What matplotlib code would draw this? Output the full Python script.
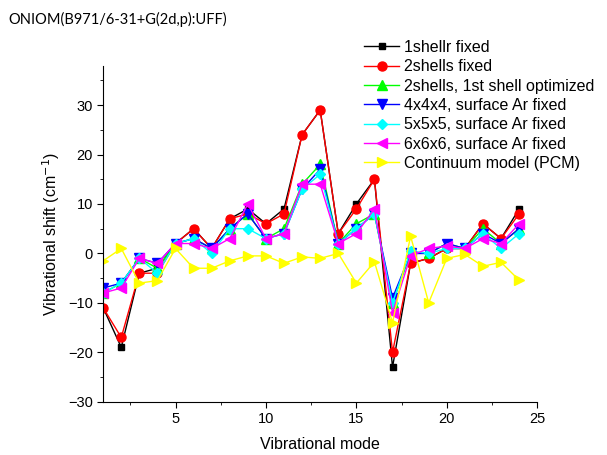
import matplotlib
matplotlib.use('Agg')
import matplotlib.pyplot as plt
from matplotlib.ticker import MultipleLocator

plt.rcParams['font.family'] = ['Liberation Sans', 'DejaVu Sans']

# Data
modes = list(range(1, 25))
one_shell = [-11, -19, -4, -3, 2, 5, 1, 7, 9, 6, 9, 24, 29, 4, 10, 15, -23, -2, -1, 1, 1, 6, 3, 9]
two_shells = [-11, -17, -4, -4, 2, 5, 1, 7, 8, 6, 8, 24, 29, 4, 9, 15, -20, -2, -1, 1, 1, 6, 3, 8]
two_shells_opt = [-8, -6, -1, -3, 2, 3, 1, 5, 8, 3, 5, 14, 18, 2, 6, 8, -10, 0, 0, 2, 1, 5, 2, 5]
cube4 = [-7, -6, -1, -2, 2, 3, 1, 5, 8, 3, 4, 13, 17, 2, 5, 8, -9, 0, 0, 2, 1, 4, 2, 5]
cube5 = [-8, -6, -1, -4, 2, 3, 0, 5, 5, 3, 4, 13, 16, 2, 5, 8, -10, 0.5, 0, 1, 1, 4, 1, 4]
cube6 = [-8, -7, -1, -2, 2, 2, 1, 3, 10, 3, 4, 14, 14, 2, 4, 9, -12, -0.5, 1, 1.5, 1, 3, 2, 6]
pcm = [-1.5, 1, -6, -5.5, 1, -3, -3, -1.5, -0.5, -0.5, -2, -0.7, -1, 0, -6, -1.7,
       -14, 3.5, -10, -1, -0.2, -2.6, -1.8, -5.4]

series = [
    ('1shellr fixed', one_shell, 'black', 's', 5),
    ('2shells fixed', two_shells, 'red', 'o', 6.5),
    ('2shells, 1st shell optimized', two_shells_opt, '#00ff00', '^', 6.5),
    ('4x4x4, surface Ar fixed', cube4, 'blue', 'v', 6.5),
    ('5x5x5, surface Ar fixed', cube5, 'cyan', 'D', 5),
    ('6x6x6, surface Ar fixed', cube6, 'magenta', '<', 6.5),
    ('Continuum model (PCM)', pcm, '#ffff00', '>', 6.5),
]

fig = plt.figure(figsize=(6.07, 4.55), dpi=100)
ax = fig.add_axes([0.170, 0.117, 0.715, 0.739])

for label, vals, color, marker, ms in series:
    ax.plot(modes, vals, color=color, marker=marker, markersize=ms,
            linewidth=1, label=label)

ax.set_xlim(1, 25)
ax.set_ylim(-30, 38)
ax.xaxis.set_major_locator(MultipleLocator(5))
ax.xaxis.set_minor_locator(MultipleLocator(2.5))
ax.set_yticks(range(-30, 31, 10))
ax.set_yticks(range(-25, 36, 10), minor=True)

for side in ['top', 'right']:
    ax.spines[side].set_visible(False)
ax.tick_params(which='major', direction='out', length=4, labelsize=10.5)
ax.tick_params(which='minor', direction='out', length=2.5)

ax.set_xlabel('Vibrational mode', fontsize=11.5, labelpad=8)
ax.set_ylabel('Vibrational shift (cm$^{-1}$)', fontsize=11.5)

fig.text(8 / 607, 1 - 19 / 455, 'ONIOM(B971/6-31+G(2d,p):UFF)',
         fontsize=10.5, family=['Lato', 'DejaVu Sans'], va='center', ha='left')

fig.legend(loc='upper left', bbox_to_anchor=(364 / 607, 1 - 40 / 455),
           frameon=False, fontsize=11.5, handlelength=2.2, handletextpad=0.3,
           labelspacing=0.27, borderaxespad=0, borderpad=0)

fig.savefig('out.png', dpi=100)
